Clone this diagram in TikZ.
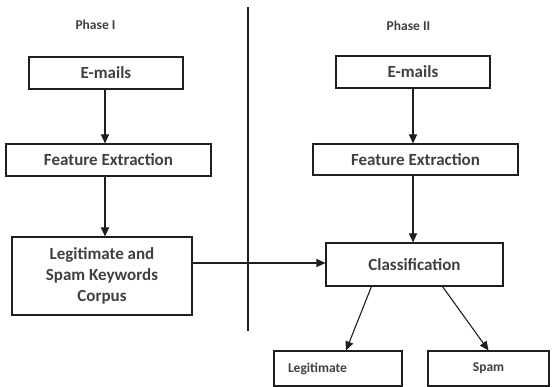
\documentclass[tikz,border=0pt]{standalone}
\usepackage{fontspec}
\setmainfont{Carlito}
\definecolor{textgray}{RGB}{64, 64, 64}
\definecolor{linegray}{RGB}{30, 30, 30}
\usetikzlibrary{arrows.meta}
\tikzset{
    block/.style={rectangle, draw=linegray, line width=1.1pt, align=center, text=textgray, font=\fontsize{17}{21}\selectfont\bfseries},
    result/.style={rectangle, draw=linegray, line width=1.1pt, align=center, text=textgray, minimum height=35pt, font=\fontsize{13.5}{16}\selectfont\bfseries},
    phase/.style={text=textgray, font=\fontsize{13.5}{16}\selectfont\bfseries},
    arrow/.style={line width=1.1pt, linegray, -{Triangle[length=9pt, width=8pt]}}
}
\begin{document}
\begin{tikzpicture}[x=1pt, y=-1pt]
        \useasboundingbox (0, 0) rectangle (552, 387);

        % Phase titles and divider
        \node[phase] (phaseone) at (95.5, 25) {Phase I};
        \node[phase] (phasetwo) at (408.5, 26) {Phase II};
        \coordinate (divtop) at (248, 7);
        \coordinate (divbot) at (248, 331);
        \draw[line width=1.1pt, linegray] (divtop) -- (divbot);

        % Phase I
        \node[block, minimum width=154pt, minimum height=32pt] (mailone) at (106, 73) {E-mails};
        \node[block, minimum width=205pt, minimum height=32pt] (featone) at (108.5, 160) {Feature Extraction};
        \node[block, minimum width=180pt, minimum height=78pt] (corpus) at (102, 276) {Legitimate and\\Spam Keywords\\Corpus};

        % Phase II
        \node[block, minimum width=154pt, minimum height=32pt] (mailtwo) at (413, 72) {E-mails};
        \node[block, minimum width=205pt, minimum height=31pt] (feattwo) at (415.5, 159.5) {Feature Extraction};
        \node[block, minimum width=177pt, minimum height=43pt] (classify) at (414.5, 264.5) {Classification};

        % Results
        \node[result, text width=100pt, inner xsep=14pt, align=left] (legit) at (338, 368.5) {Legitimate};
        \node[result, minimum width=121pt] (spam) at (488.5, 368.5) {Spam};

        % Arrows
        \draw[arrow] ([xshift=-1pt]mailone.south) -- ([xshift=-1pt]mailone.south |- featone.north);
        \draw[arrow] ([xshift=-1pt]mailone.south |- featone.south) -- ([xshift=-1pt]mailone.south |- corpus.north);
        \draw[arrow] (mailtwo.south) -- (mailtwo.south |- feattwo.north);
        \draw[arrow] (mailtwo.south |- feattwo.south) -- (mailtwo.south |- classify.north);
        \draw[arrow] ([yshift=1.5pt]classify.west -| corpus.east) -- ([yshift=1.5pt]classify.west);
        \draw[arrow] ([xshift=46pt]classify.south west) -- ([xshift=8pt]legit.north);
        \draw[arrow] ([xshift=-61pt]classify.south east) -- (spam.north);
    \end{tikzpicture}
\end{document}
